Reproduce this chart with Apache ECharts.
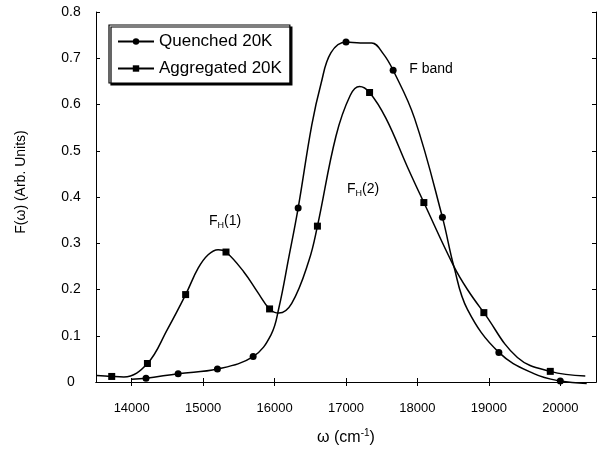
<!DOCTYPE html>
<html>
<head>
<meta charset="utf-8">
<script src="https://cdn.jsdelivr.net/npm/echarts@6/dist/echarts.min.js"></script>
<style>
  html, body { margin: 0; padding: 0; background: #fff; }
  #chart { width: 598px; height: 451px; }
</style>
</head>
<body>
<div id="chart"></div>
<script>
const FONT = '"Liberation Sans", Arial, Helvetica, sans-serif';

const X_TICKS = [14000, 15000, 16000, 17000, 18000, 19000, 20000];

// trace of the quenched curve
const quenchedCurve = [
  [14000, 0.006], [15950, 0.102], [16060, 0.16], [16200, 0.27],
  [16520, 0.555], [16650, 0.645], [16790, 0.712], [17200, 0.733],
  [17360, 0.733], [17520, 0.71], [17960, 0.57], [18510, 0.25],
  [18700, 0.157], [19630, 0.018], [20370, -0.003]
];
// points carrying a circle marker
const quenchedMarks = [
  [14200, 0.008], [14650, 0.018], [15200, 0.028], [15700, 0.055],
  [16330, 0.376], [17000, 0.735], [17660, 0.674], [18350, 0.356],
  [19140, 0.064], [20000, 0.002]
];

const aggregatedCurve = [
  [13510, 0.014], [13890, 0.011], [14500, 0.114], [14930, 0.246],
  [15070, 0.275], [15210, 0.286], [15570, 0.238], [15760, 0.195],
  [16060, 0.149], [16240, 0.17], [16480, 0.262], [16860, 0.532],
  [17060, 0.62], [17190, 0.639], [17560, 0.57], [17860, 0.465],
  [18510, 0.25], [18700, 0.2], [19400, 0.053], [20350, 0.013]
];
// points carrying a square marker
const aggregatedMarks = [
  [13720, 0.012], [14220, 0.04], [14755, 0.189], [15320, 0.281],
  [15930, 0.158], [16600, 0.337], [17330, 0.626], [18090, 0.388],
  [18930, 0.15], [19860, 0.023]
];

// curve points get no symbol, marker points keep the series symbol
function buildData(curve, marks) {
  const pts = curve.map(p => ({ value: p, symbol: 'none' }))
    .concat(marks.map(p => ({ value: p })));
  pts.sort((a, b) => a.value[0] - b.value[0]);
  return pts;
}

function curveSeries(name, symbol, curve, marks) {
  return {
    type: 'line',
    name: name,
    data: buildData(curve, marks),
    smooth: 0.4,
    symbol: symbol,
    symbolSize: 7,
    showSymbol: true,
    showAllSymbol: true,
    clip: false,
    lineStyle: { color: '#000', width: 1.5 },
    itemStyle: { color: '#000' },
    emphasis: { disabled: true }
  };
}

const chart = echarts.init(document.getElementById('chart'));
chart.setOption({
  animation: false,
  backgroundColor: '#fff',
  grid: { left: 96, right: 2, top: 12, bottom: 69 },
  legend: {
    orient: 'vertical',
    left: 109,
    top: 25,
    itemWidth: 36,
    itemHeight: 8,
    itemGap: 10,
    padding: [8, 8, 6, 8],
    backgroundColor: '#fff',
    borderColor: '#000',
    borderWidth: 1.2,
    borderRadius: 0,
    shadowColor: '#000',
    shadowOffsetX: 2,
    shadowOffsetY: 2,
    shadowBlur: 0,
    textStyle: { fontSize: 17, color: '#000', fontFamily: FONT },
    data: ['Quenched 20K', 'Aggregated 20K']
  },
  xAxis: [
    {
      type: 'value',
      min: 13500,
      max: 20500,
      position: 'bottom',
      axisLine: { lineStyle: { color: '#000', width: 1 } },
      axisTick: { inside: true, length: 4, customValues: X_TICKS, lineStyle: { color: '#000' } },
      axisLabel: {
        customValues: X_TICKS, margin: 20, fontSize: 13, color: '#000', fontFamily: FONT,
        formatter: v => String(v)
      },
      splitLine: { show: false },
      name: 'ω (cm{sup|-1})',
      nameLocation: 'middle',
      nameGap: 46,
      nameTextStyle: {
        fontSize: 16, color: '#000', fontFamily: FONT,
        rich: { sup: { fontSize: 10, color: '#000', fontFamily: FONT, verticalAlign: 'top', padding: [0, 0, 9, 0] } }
      }
    },
    {
      type: 'value',
      min: 13500,
      max: 20500,
      position: 'top',
      axisLine: { lineStyle: { color: '#000', width: 1 } },
      axisTick: { inside: true, length: 4, customValues: X_TICKS, lineStyle: { color: '#000' } },
      axisLabel: { show: false },
      splitLine: { show: false }
    }
  ],
  yAxis: [
    {
      type: 'value',
      min: 0,
      max: 0.8,
      interval: 0.1,
      axisLine: { show: true, lineStyle: { color: '#000', width: 1 } },
      axisTick: { show: true, inside: true, length: 4, lineStyle: { color: '#000' } },
      axisLabel: {
        align: 'center', margin: 25, fontSize: 14, color: '#000', fontFamily: FONT,
        formatter: v => (v === 0 ? '0' : v.toFixed(1))
      },
      splitLine: { show: false }
    },
    {
      type: 'value',
      min: 0,
      max: 0.8,
      interval: 0.1,
      position: 'right',
      axisLine: { show: true, lineStyle: { color: '#000', width: 1 } },
      axisTick: { show: true, inside: true, length: 4, lineStyle: { color: '#000' } },
      axisLabel: { show: false },
      splitLine: { show: false }
    }
  ],
  graphic: [
    {
      type: 'text', x: 21, y: 182, rotation: Math.PI / 2,
      style: { text: 'F(ω) (Arb. Units)', font: '14px ' + FONT, fill: '#000', align: 'center', verticalAlign: 'middle' }
    },
    {
      type: 'text', x: 431, y: 69,
      style: { text: 'F band', font: '14px ' + FONT, fill: '#000', align: 'center', verticalAlign: 'middle' }
    },
    {
      type: 'text', x: 225, y: 221,
      style: {
        text: 'F{sub|H}(1)', font: '14px ' + FONT, fill: '#000', align: 'center', verticalAlign: 'middle',
        rich: { sub: { fontSize: 9, fontFamily: FONT, fill: '#000', padding: [9, 0, 0, 0] } }
      }
    },
    {
      type: 'text', x: 363, y: 189,
      style: {
        text: 'F{sub|H}(2)', font: '14px ' + FONT, fill: '#000', align: 'center', verticalAlign: 'middle',
        rich: { sub: { fontSize: 9, fontFamily: FONT, fill: '#000', padding: [9, 0, 0, 0] } }
      }
    }
  ],
  series: [
    curveSeries('Quenched 20K', 'circle', quenchedCurve, quenchedMarks),
    curveSeries('Aggregated 20K', 'rect', aggregatedCurve, aggregatedMarks)
  ]
});
</script>
</body>
</html>
